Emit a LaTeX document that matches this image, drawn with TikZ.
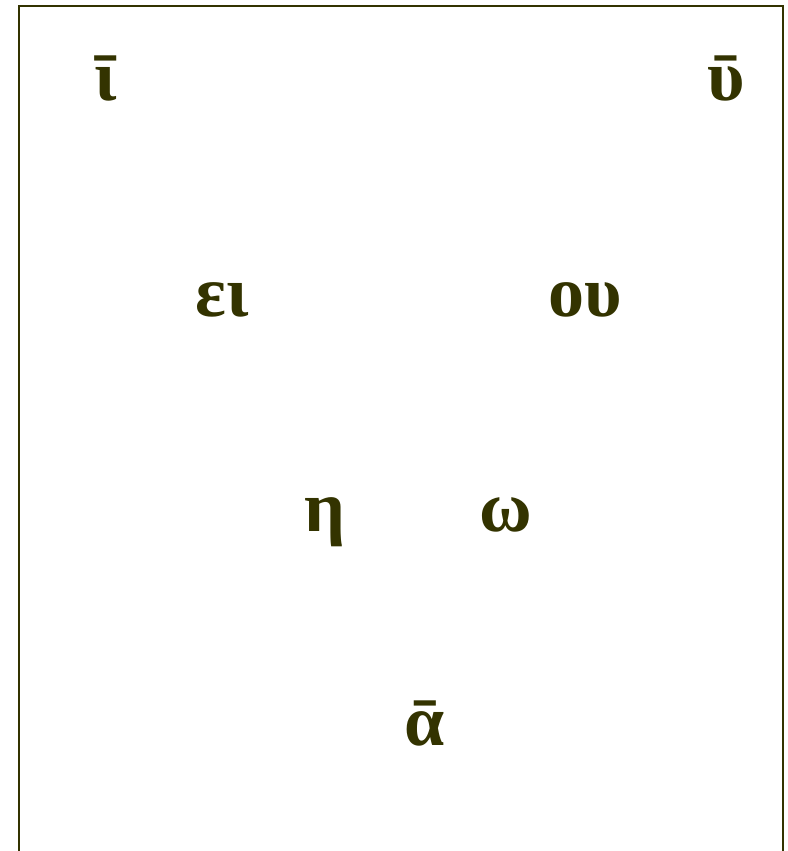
\documentclass[tikz,border=0pt]{standalone}
\usepackage{fontspec}
\setmainfont{Liberation Serif}
\usepackage{xcolor}
\usetikzlibrary{positioning}
\definecolor{Ink}{HTML}{333300}

\begin{document}
\begin{tikzpicture}[
  x=1pt, y=-1pt,
  vowel/.style={text=Ink, font=\fontsize{72}{80}\selectfont\bfseries, anchor=base, inner sep=0pt},
  frame/.style={draw=Ink, line width=2.4pt}
]
\useasboundingbox (0,0) rectangle (787,851);
\draw[frame] (19,853) -- (19,6) -- (783,6) -- (783,853);
\node[vowel] (ilong) at (106,100) {ῑ};
\node[vowel] (ulong) at (726,100) {ῡ};
\node[vowel] (ei) at (222,316) {ει};
\node[vowel] (ou) at (585,316) {ου};
\node[vowel] (eta) at (325,531) {η};
\node[vowel] (omega) at (506,531) {ω};
\node[vowel] (along) at (425,745) {ᾱ};
\end{tikzpicture}
\end{document}
